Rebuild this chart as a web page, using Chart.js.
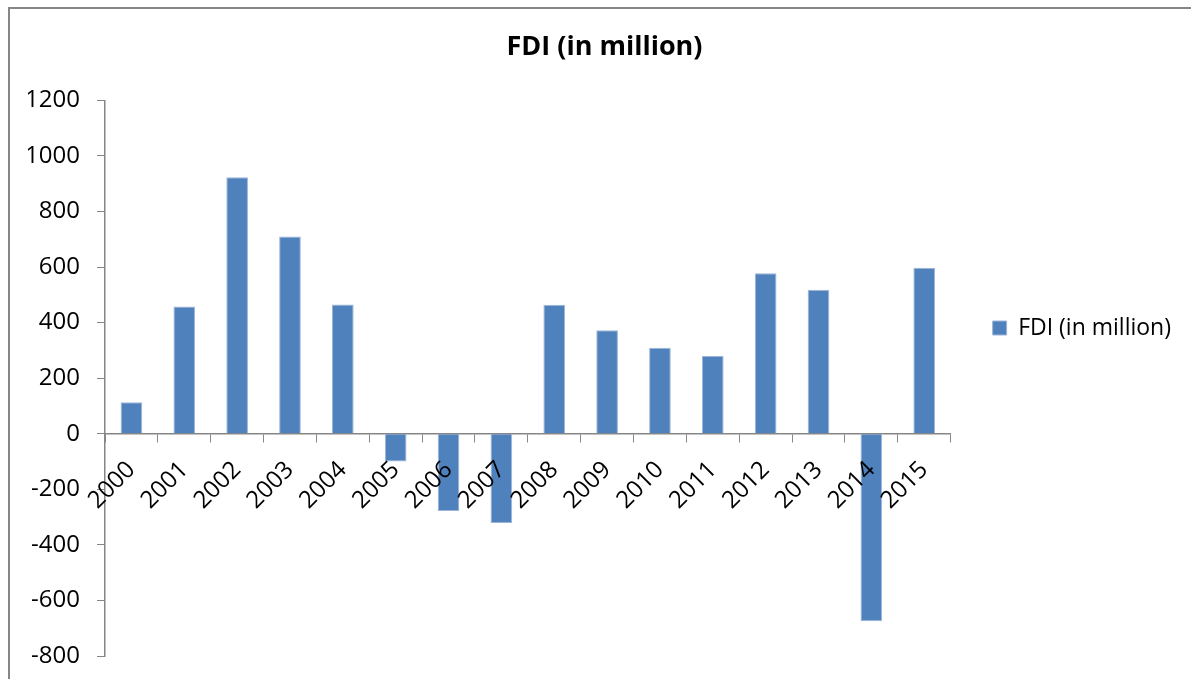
<!DOCTYPE html>
<html>
<head>
<meta charset="utf-8">
<title>FDI (in million)</title>
<script src="https://cdn.jsdelivr.net/npm/chart.js@4"></script>
<style>
  html, body { margin: 0; padding: 0; background: #fff; }
  #wrap { width: 1191px; height: 679px; position: relative; }
</style>
</head>
<body>
<div id="wrap"><canvas id="fdiChart"></canvas></div>
<script>
const years = ["2000", "2001", "2002", "2003", "2004", "2005", "2006", "2007",
  "2008", "2009", "2010", "2011", "2012", "2013", "2014", "2015"];
const fdiValues = [113, 458, 923, 710, 465, -100, -278, -321,
  464, 373, 310, 280, 578, 518, -675, 598];
const yMin = -800;
const yMax = 1200;
const yStep = 200;

const axisGrey = "#868686";

// grey frame like the Excel chart area (only top and left edges are visible)
const framePlugin = {
  id: "frame",
  beforeDraw(chart) {
    const c = chart.ctx;
    c.save();
    c.strokeStyle = axisGrey;
    c.lineWidth = 2;
    c.beginPath();
    c.moveTo(9, chart.height);
    c.lineTo(9, 8);
    c.lineTo(chart.width, 8);
    c.stroke();
    c.restore();
  },
};

Chart.defaults.font.family = "'Open Sans', sans-serif";
Chart.defaults.color = "#000";

const ctx = document.getElementById("fdiChart").getContext("2d");

new Chart(ctx, {
  type: "bar",
  data: {
    labels: years,
    datasets: [
      {
        label: "FDI (in million)",
        data: fdiValues,
        backgroundColor: "#4F81BD",
        borderColor: "#9DB6D8",
        borderWidth: 1,
        categoryPercentage: 1,
        barPercentage: 0.41,
      },
    ],
  },
  options: {
    responsive: true,
    maintainAspectRatio: false,
    animation: false,
    layout: {
      padding: { left: 28, right: 10, top: 0, bottom: 23 },
    },
    plugins: {
      title: {
        display: true,
        text: "FDI (in million)",
        font: { size: 27, weight: "bold" },
        padding: { top: 31, bottom: 37 },
      },
      legend: {
        position: "right",
        labels: {
          boxWidth: 14,
          boxHeight: 14,
          padding: 42,
          font: { size: 23 },
        },
      },
      tooltip: { enabled: false },
    },
    scales: {
      x: {
        position: { y: 0 },
        z: 1,
        grid: {
          offset: true,
          drawOnChartArea: false,
          drawTicks: true,
          tickLength: 8,
          color: axisGrey,
        },
        border: { display: true, color: axisGrey, width: 1.5 },
        ticks: {
          z: 1,
          autoSkip: false,
          maxRotation: 45,
          minRotation: 45,
          padding: 14,
          font: { size: 24 },
        },
      },
      y: {
        min: yMin,
        max: yMax,
        afterFit: function (scale) {
          scale.width = 77;
          scale.paddingTop = 0;
          scale.paddingBottom = 0;
        },
        grid: {
          drawOnChartArea: false,
          drawTicks: true,
          tickLength: 8,
          color: axisGrey,
        },
        border: { display: true, color: axisGrey, width: 1.5 },
        ticks: {
          stepSize: yStep,
          padding: 17,
          font: { size: 24 },
          callback: function (value) {
            return String(value);
          },
        },
      },
    },
  },
  plugins: [framePlugin],
});
</script>
</body>
</html>
